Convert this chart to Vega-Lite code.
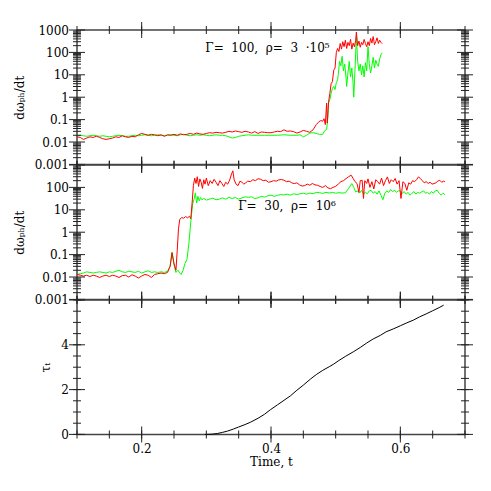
{
  "$schema": "https://vega.github.io/schema/vega-lite/v6.json",
  "padding": {"left": 12, "top": 21, "right": 5, "bottom": 5},
  "spacing": 0,
  "bounds": "flush",
  "config": {
    "view": {"stroke": "#444", "strokeWidth": 1.5},
    "font": "DejaVu Serif",
    "axis": {
      "labelFont": "DejaVu Serif", "labelFontSize": 12, "labelColor": "#000",
      "titleFont": "DejaVu Serif", "titleFontSize": 12, "titleFontWeight": "normal", "titleColor": "#000",
      "domain": false, "ticks": false, "grid": false, "labelFlush": false, "labelOverlap": false
    },
    "tick": {"color": "#222", "thickness": 1, "opacity": 1, "clip": true}
  },
  "datasets": {
    "xmajor": [{"p":0.2},{"p":0.4},{"p":0.6}],
    "xminor": [{"p":0.1},{"p":0.15},{"p":0.2},{"p":0.25},{"p":0.3},{"p":0.35},{"p":0.4},{"p":0.45},{"p":0.5},{"p":0.55},{"p":0.6},{"p":0.65},{"p":0.7}],
    "logmajor": [{"p":0.001},{"p":0.01},{"p":0.1},{"p":1},{"p":10},{"p":100},{"p":1000}],
    "logminor": [{"p":0.002},{"p":0.003},{"p":0.004},{"p":0.005},{"p":0.006},{"p":0.007},{"p":0.008},{"p":0.009},{"p":0.02},{"p":0.03},{"p":0.04},{"p":0.05},{"p":0.06},{"p":0.07},{"p":0.08},{"p":0.09},{"p":0.2},{"p":0.3},{"p":0.4},{"p":0.5},{"p":0.6},{"p":0.7},{"p":0.8},{"p":0.9},{"p":2},{"p":3},{"p":4},{"p":5},{"p":6},{"p":7},{"p":8},{"p":9},{"p":20},{"p":30},{"p":40},{"p":50},{"p":60},{"p":70},{"p":80},{"p":90},{"p":200},{"p":300},{"p":400},{"p":500},{"p":600},{"p":700},{"p":800},{"p":900}],
    "linmajor": [{"p":0},{"p":2},{"p":4},{"p":6}],
    "linminor": [{"p":0},{"p":0.5},{"p":1},{"p":1.5},{"p":2},{"p":2.5},{"p":3},{"p":3.5},{"p":4},{"p":4.5},{"p":5},{"p":5.5},{"p":6}],
    "top": [
      {"t":0.100,"v":0.019,"s":"lower"},{"t":0.105,"v":0.020,"s":"lower"},{"t":0.110,"v":0.019,"s":"lower"},{"t":0.115,"v":0.018,"s":"lower"},{"t":0.120,"v":0.019,"s":"lower"},{"t":0.125,"v":0.020,"s":"lower"},{"t":0.130,"v":0.019,"s":"lower"},{"t":0.135,"v":0.018,"s":"lower"},{"t":0.140,"v":0.019,"s":"lower"},{"t":0.145,"v":0.018,"s":"lower"},{"t":0.150,"v":0.017,"s":"lower"},{"t":0.155,"v":0.018,"s":"lower"},{"t":0.160,"v":0.019,"s":"lower"},{"t":0.165,"v":0.020,"s":"lower"},{"t":0.170,"v":0.019,"s":"lower"},{"t":0.175,"v":0.018,"s":"lower"},{"t":0.180,"v":0.018,"s":"lower"},{"t":0.185,"v":0.019,"s":"lower"},{"t":0.190,"v":0.020,"s":"lower"},{"t":0.195,"v":0.019,"s":"lower"},{"t":0.200,"v":0.020,"s":"lower"},{"t":0.205,"v":0.021,"s":"lower"},{"t":0.210,"v":0.020,"s":"lower"},{"t":0.215,"v":0.019,"s":"lower"},{"t":0.220,"v":0.020,"s":"lower"},{"t":0.225,"v":0.021,"s":"lower"},{"t":0.230,"v":0.020,"s":"lower"},{"t":0.235,"v":0.019,"s":"lower"},{"t":0.240,"v":0.020,"s":"lower"},{"t":0.245,"v":0.021,"s":"lower"},{"t":0.250,"v":0.020,"s":"lower"},{"t":0.255,"v":0.019,"s":"lower"},{"t":0.260,"v":0.021,"s":"lower"},{"t":0.265,"v":0.022,"s":"lower"},{"t":0.270,"v":0.020,"s":"lower"},{"t":0.275,"v":0.019,"s":"lower"},{"t":0.280,"v":0.020,"s":"lower"},{"t":0.285,"v":0.021,"s":"lower"},{"t":0.290,"v":0.020,"s":"lower"},{"t":0.295,"v":0.021,"s":"lower"},{"t":0.300,"v":0.020,"s":"lower"},{"t":0.305,"v":0.019,"s":"lower"},{"t":0.310,"v":0.020,"s":"lower"},{"t":0.315,"v":0.021,"s":"lower"},{"t":0.320,"v":0.020,"s":"lower"},{"t":0.325,"v":0.020,"s":"lower"},{"t":0.330,"v":0.019,"s":"lower"},{"t":0.335,"v":0.017,"s":"lower"},{"t":0.340,"v":0.015,"s":"lower"},{"t":0.345,"v":0.016,"s":"lower"},{"t":0.350,"v":0.018,"s":"lower"},{"t":0.355,"v":0.019,"s":"lower"},{"t":0.360,"v":0.020,"s":"lower"},{"t":0.365,"v":0.021,"s":"lower"},{"t":0.370,"v":0.020,"s":"lower"},{"t":0.380,"v":0.020,"s":"lower"},{"t":0.390,"v":0.020,"s":"lower"},{"t":0.400,"v":0.020,"s":"lower"},{"t":0.410,"v":0.020,"s":"lower"},{"t":0.420,"v":0.021,"s":"lower"},{"t":0.430,"v":0.020,"s":"lower"},{"t":0.440,"v":0.020,"s":"lower"},{"t":0.445,"v":0.021,"s":"lower"},{"t":0.450,"v":0.017,"s":"lower"},{"t":0.455,"v":0.020,"s":"lower"},{"t":0.460,"v":0.025,"s":"lower"},{"t":0.465,"v":0.026,"s":"lower"},{"t":0.470,"v":0.024,"s":"lower"},{"t":0.475,"v":0.022,"s":"lower"},{"t":0.480,"v":0.022,"s":"lower"},{"t":0.483,"v":0.032,"s":"lower"},{"t":0.486,"v":0.036,"s":"lower"},{"t":0.488,"v":0.13,"s":"lower"},{"t":0.489,"v":0.55,"s":"lower"},{"t":0.491,"v":0.8,"s":"lower"},{"t":0.493,"v":1.5,"s":"lower"},{"t":0.495,"v":2.5,"s":"lower"},{"t":0.497,"v":3,"s":"lower"},{"t":0.499,"v":2.2,"s":"lower"},{"t":0.501,"v":4.5,"s":"lower"},{"t":0.503,"v":6,"s":"lower"},{"t":0.504,"v":10,"s":"lower"},{"t":0.506,"v":40,"s":"lower"},{"t":0.508,"v":25,"s":"lower"},{"t":0.510,"v":67,"s":"lower"},{"t":0.512,"v":15,"s":"lower"},{"t":0.514,"v":30,"s":"lower"},{"t":0.516,"v":8,"s":"lower"},{"t":0.517,"v":3,"s":"lower"},{"t":0.519,"v":12,"s":"lower"},{"t":0.521,"v":40,"s":"lower"},{"t":0.523,"v":8,"s":"lower"},{"t":0.525,"v":20,"s":"lower"},{"t":0.527,"v":4,"s":"lower"},{"t":0.528,"v":1,"s":"lower"},{"t":0.530,"v":20,"s":"lower"},{"t":0.532,"v":500,"s":"lower"},{"t":0.534,"v":40,"s":"lower"},{"t":0.536,"v":15,"s":"lower"},{"t":0.538,"v":30,"s":"lower"},{"t":0.540,"v":10,"s":"lower"},{"t":0.542,"v":25,"s":"lower"},{"t":0.544,"v":8,"s":"lower"},{"t":0.546,"v":35,"s":"lower"},{"t":0.548,"v":15,"s":"lower"},{"t":0.550,"v":180,"s":"lower"},{"t":0.552,"v":30,"s":"lower"},{"t":0.554,"v":12,"s":"lower"},{"t":0.556,"v":25,"s":"lower"},{"t":0.558,"v":60,"s":"lower"},{"t":0.560,"v":20,"s":"lower"},{"t":0.562,"v":45,"s":"lower"},{"t":0.564,"v":30,"s":"lower"},{"t":0.566,"v":24,"s":"lower"},{"t":0.568,"v":50,"s":"lower"},{"t":0.570,"v":80,"s":"lower"},{"t":0.572,"v":95,"s":"lower"},
      {"t":0.100,"v":0.017,"s":"upper"},{"t":0.105,"v":0.016,"s":"upper"},{"t":0.110,"v":0.013,"s":"upper"},{"t":0.115,"v":0.015,"s":"upper"},{"t":0.120,"v":0.017,"s":"upper"},{"t":0.125,"v":0.016,"s":"upper"},{"t":0.130,"v":0.018,"s":"upper"},{"t":0.135,"v":0.016,"s":"upper"},{"t":0.140,"v":0.014,"s":"upper"},{"t":0.145,"v":0.013,"s":"upper"},{"t":0.150,"v":0.014,"s":"upper"},{"t":0.155,"v":0.015,"s":"upper"},{"t":0.160,"v":0.017,"s":"upper"},{"t":0.165,"v":0.016,"s":"upper"},{"t":0.170,"v":0.019,"s":"upper"},{"t":0.175,"v":0.017,"s":"upper"},{"t":0.180,"v":0.016,"s":"upper"},{"t":0.185,"v":0.018,"s":"upper"},{"t":0.190,"v":0.017,"s":"upper"},{"t":0.195,"v":0.021,"s":"upper"},{"t":0.200,"v":0.024,"s":"upper"},{"t":0.205,"v":0.022,"s":"upper"},{"t":0.210,"v":0.020,"s":"upper"},{"t":0.215,"v":0.022,"s":"upper"},{"t":0.220,"v":0.021,"s":"upper"},{"t":0.225,"v":0.019,"s":"upper"},{"t":0.230,"v":0.021,"s":"upper"},{"t":0.235,"v":0.018,"s":"upper"},{"t":0.240,"v":0.021,"s":"upper"},{"t":0.245,"v":0.020,"s":"upper"},{"t":0.250,"v":0.022,"s":"upper"},{"t":0.255,"v":0.020,"s":"upper"},{"t":0.260,"v":0.023,"s":"upper"},{"t":0.265,"v":0.021,"s":"upper"},{"t":0.270,"v":0.022,"s":"upper"},{"t":0.275,"v":0.024,"s":"upper"},{"t":0.280,"v":0.022,"s":"upper"},{"t":0.285,"v":0.025,"s":"upper"},{"t":0.290,"v":0.023,"s":"upper"},{"t":0.295,"v":0.022,"s":"upper"},{"t":0.300,"v":0.024,"s":"upper"},{"t":0.305,"v":0.026,"s":"upper"},{"t":0.310,"v":0.025,"s":"upper"},{"t":0.315,"v":0.027,"s":"upper"},{"t":0.320,"v":0.026,"s":"upper"},{"t":0.325,"v":0.025,"s":"upper"},{"t":0.330,"v":0.027,"s":"upper"},{"t":0.335,"v":0.030,"s":"upper"},{"t":0.340,"v":0.028,"s":"upper"},{"t":0.345,"v":0.031,"s":"upper"},{"t":0.350,"v":0.029,"s":"upper"},{"t":0.355,"v":0.027,"s":"upper"},{"t":0.360,"v":0.030,"s":"upper"},{"t":0.365,"v":0.028,"s":"upper"},{"t":0.370,"v":0.025,"s":"upper"},{"t":0.375,"v":0.029,"s":"upper"},{"t":0.380,"v":0.024,"s":"upper"},{"t":0.385,"v":0.028,"s":"upper"},{"t":0.390,"v":0.027,"s":"upper"},{"t":0.395,"v":0.026,"s":"upper"},{"t":0.400,"v":0.026,"s":"upper"},{"t":0.405,"v":0.028,"s":"upper"},{"t":0.410,"v":0.030,"s":"upper"},{"t":0.415,"v":0.029,"s":"upper"},{"t":0.420,"v":0.035,"s":"upper"},{"t":0.425,"v":0.030,"s":"upper"},{"t":0.430,"v":0.031,"s":"upper"},{"t":0.435,"v":0.029,"s":"upper"},{"t":0.440,"v":0.025,"s":"upper"},{"t":0.445,"v":0.028,"s":"upper"},{"t":0.450,"v":0.033,"s":"upper"},{"t":0.455,"v":0.030,"s":"upper"},{"t":0.460,"v":0.027,"s":"upper"},{"t":0.465,"v":0.035,"s":"upper"},{"t":0.470,"v":0.06,"s":"upper"},{"t":0.474,"v":0.08,"s":"upper"},{"t":0.477,"v":0.09,"s":"upper"},{"t":0.480,"v":0.085,"s":"upper"},{"t":0.482,"v":0.11,"s":"upper"},{"t":0.484,"v":0.06,"s":"upper"},{"t":0.486,"v":0.55,"s":"upper"},{"t":0.487,"v":0.07,"s":"upper"},{"t":0.489,"v":0.6,"s":"upper"},{"t":0.491,"v":1.5,"s":"upper"},{"t":0.493,"v":4,"s":"upper"},{"t":0.495,"v":5,"s":"upper"},{"t":0.497,"v":16,"s":"upper"},{"t":0.499,"v":20,"s":"upper"},{"t":0.501,"v":100,"s":"upper"},{"t":0.503,"v":150,"s":"upper"},{"t":0.505,"v":110,"s":"upper"},{"t":0.507,"v":250,"s":"upper"},{"t":0.509,"v":140,"s":"upper"},{"t":0.511,"v":300,"s":"upper"},{"t":0.513,"v":180,"s":"upper"},{"t":0.515,"v":350,"s":"upper"},{"t":0.517,"v":150,"s":"upper"},{"t":0.519,"v":280,"s":"upper"},{"t":0.521,"v":200,"s":"upper"},{"t":0.523,"v":380,"s":"upper"},{"t":0.525,"v":140,"s":"upper"},{"t":0.527,"v":260,"s":"upper"},{"t":0.529,"v":180,"s":"upper"},{"t":0.531,"v":350,"s":"upper"},{"t":0.532,"v":800,"s":"upper"},{"t":0.534,"v":200,"s":"upper"},{"t":0.536,"v":320,"s":"upper"},{"t":0.538,"v":170,"s":"upper"},{"t":0.540,"v":280,"s":"upper"},{"t":0.542,"v":220,"s":"upper"},{"t":0.544,"v":380,"s":"upper"},{"t":0.546,"v":250,"s":"upper"},{"t":0.548,"v":180,"s":"upper"},{"t":0.550,"v":300,"s":"upper"},{"t":0.552,"v":200,"s":"upper"},{"t":0.554,"v":420,"s":"upper"},{"t":0.556,"v":260,"s":"upper"},{"t":0.558,"v":510,"s":"upper"},{"t":0.560,"v":220,"s":"upper"},{"t":0.562,"v":300,"s":"upper"},{"t":0.564,"v":450,"s":"upper"},{"t":0.566,"v":250,"s":"upper"},{"t":0.568,"v":350,"s":"upper"},{"t":0.570,"v":280,"s":"upper"},{"t":0.572,"v":245,"s":"upper"}
    ],
    "mid": [
      {"t":0.100,"v":0.013,"s":"lower"},{"t":0.105,"v":0.014,"s":"lower"},{"t":0.110,"v":0.015,"s":"lower"},{"t":0.115,"v":0.017,"s":"lower"},{"t":0.120,"v":0.016,"s":"lower"},{"t":0.125,"v":0.015,"s":"lower"},{"t":0.130,"v":0.016,"s":"lower"},{"t":0.135,"v":0.017,"s":"lower"},{"t":0.140,"v":0.016,"s":"lower"},{"t":0.145,"v":0.015,"s":"lower"},{"t":0.150,"v":0.017,"s":"lower"},{"t":0.155,"v":0.016,"s":"lower"},{"t":0.160,"v":0.018,"s":"lower"},{"t":0.165,"v":0.020,"s":"lower"},{"t":0.170,"v":0.017,"s":"lower"},{"t":0.175,"v":0.016,"s":"lower"},{"t":0.180,"v":0.018,"s":"lower"},{"t":0.185,"v":0.017,"s":"lower"},{"t":0.190,"v":0.016,"s":"lower"},{"t":0.195,"v":0.018,"s":"lower"},{"t":0.200,"v":0.015,"s":"lower"},{"t":0.205,"v":0.017,"s":"lower"},{"t":0.210,"v":0.019,"s":"lower"},{"t":0.215,"v":0.016,"s":"lower"},{"t":0.220,"v":0.017,"s":"lower"},{"t":0.225,"v":0.016,"s":"lower"},{"t":0.230,"v":0.017,"s":"lower"},{"t":0.235,"v":0.016,"s":"lower"},{"t":0.240,"v":0.018,"s":"lower"},{"t":0.244,"v":0.030,"s":"lower"},{"t":0.247,"v":0.13,"s":"lower"},{"t":0.250,"v":0.035,"s":"lower"},{"t":0.253,"v":0.016,"s":"lower"},{"t":0.256,"v":0.020,"s":"lower"},{"t":0.259,"v":0.015,"s":"lower"},{"t":0.261,"v":0.013,"s":"lower"},{"t":0.264,"v":0.020,"s":"lower"},{"t":0.267,"v":0.04,"s":"lower"},{"t":0.270,"v":0.06,"s":"lower"},{"t":0.273,"v":0.3,"s":"lower"},{"t":0.275,"v":1.4,"s":"lower"},{"t":0.277,"v":6,"s":"lower"},{"t":0.279,"v":19,"s":"lower"},{"t":0.281,"v":30,"s":"lower"},{"t":0.283,"v":57,"s":"lower"},{"t":0.285,"v":20,"s":"lower"},{"t":0.287,"v":40,"s":"lower"},{"t":0.289,"v":25,"s":"lower"},{"t":0.291,"v":35,"s":"lower"},{"t":0.293,"v":28,"s":"lower"},{"t":0.296,"v":32,"s":"lower"},{"t":0.300,"v":27,"s":"lower"},{"t":0.305,"v":30,"s":"lower"},{"t":0.310,"v":33,"s":"lower"},{"t":0.315,"v":28,"s":"lower"},{"t":0.320,"v":30,"s":"lower"},{"t":0.325,"v":34,"s":"lower"},{"t":0.330,"v":30,"s":"lower"},{"t":0.335,"v":36,"s":"lower"},{"t":0.340,"v":32,"s":"lower"},{"t":0.345,"v":35,"s":"lower"},{"t":0.350,"v":30,"s":"lower"},{"t":0.355,"v":34,"s":"lower"},{"t":0.360,"v":38,"s":"lower"},{"t":0.365,"v":36,"s":"lower"},{"t":0.370,"v":38,"s":"lower"},{"t":0.375,"v":32,"s":"lower"},{"t":0.380,"v":34,"s":"lower"},{"t":0.385,"v":40,"s":"lower"},{"t":0.390,"v":37,"s":"lower"},{"t":0.395,"v":42,"s":"lower"},{"t":0.400,"v":45,"s":"lower"},{"t":0.405,"v":40,"s":"lower"},{"t":0.410,"v":44,"s":"lower"},{"t":0.415,"v":48,"s":"lower"},{"t":0.420,"v":46,"s":"lower"},{"t":0.425,"v":50,"s":"lower"},{"t":0.430,"v":45,"s":"lower"},{"t":0.435,"v":52,"s":"lower"},{"t":0.440,"v":48,"s":"lower"},{"t":0.445,"v":52,"s":"lower"},{"t":0.450,"v":55,"s":"lower"},{"t":0.455,"v":50,"s":"lower"},{"t":0.460,"v":56,"s":"lower"},{"t":0.465,"v":52,"s":"lower"},{"t":0.470,"v":60,"s":"lower"},{"t":0.475,"v":58,"s":"lower"},{"t":0.480,"v":54,"s":"lower"},{"t":0.485,"v":60,"s":"lower"},{"t":0.490,"v":56,"s":"lower"},{"t":0.495,"v":60,"s":"lower"},{"t":0.500,"v":55,"s":"lower"},{"t":0.505,"v":58,"s":"lower"},{"t":0.510,"v":56,"s":"lower"},{"t":0.515,"v":57,"s":"lower"},{"t":0.520,"v":90,"s":"lower"},{"t":0.525,"v":148,"s":"lower"},{"t":0.528,"v":100,"s":"lower"},{"t":0.531,"v":63,"s":"lower"},{"t":0.534,"v":70,"s":"lower"},{"t":0.537,"v":55,"s":"lower"},{"t":0.540,"v":75,"s":"lower"},{"t":0.543,"v":50,"s":"lower"},{"t":0.546,"v":60,"s":"lower"},{"t":0.549,"v":52,"s":"lower"},{"t":0.552,"v":70,"s":"lower"},{"t":0.555,"v":74,"s":"lower"},{"t":0.558,"v":55,"s":"lower"},{"t":0.561,"v":65,"s":"lower"},{"t":0.564,"v":50,"s":"lower"},{"t":0.567,"v":70,"s":"lower"},{"t":0.570,"v":45,"s":"lower"},{"t":0.573,"v":28,"s":"lower"},{"t":0.576,"v":55,"s":"lower"},{"t":0.579,"v":70,"s":"lower"},{"t":0.582,"v":60,"s":"lower"},{"t":0.585,"v":80,"s":"lower"},{"t":0.588,"v":65,"s":"lower"},{"t":0.591,"v":75,"s":"lower"},{"t":0.594,"v":60,"s":"lower"},{"t":0.597,"v":70,"s":"lower"},{"t":0.600,"v":70,"s":"lower"},{"t":0.603,"v":55,"s":"lower"},{"t":0.606,"v":65,"s":"lower"},{"t":0.609,"v":50,"s":"lower"},{"t":0.612,"v":60,"s":"lower"},{"t":0.615,"v":45,"s":"lower"},{"t":0.618,"v":55,"s":"lower"},{"t":0.621,"v":65,"s":"lower"},{"t":0.624,"v":50,"s":"lower"},{"t":0.627,"v":60,"s":"lower"},{"t":0.630,"v":55,"s":"lower"},{"t":0.633,"v":63,"s":"lower"},{"t":0.636,"v":70,"s":"lower"},{"t":0.639,"v":55,"s":"lower"},{"t":0.642,"v":60,"s":"lower"},{"t":0.645,"v":50,"s":"lower"},{"t":0.648,"v":65,"s":"lower"},{"t":0.651,"v":55,"s":"lower"},{"t":0.654,"v":70,"s":"lower"},{"t":0.657,"v":74,"s":"lower"},{"t":0.660,"v":55,"s":"lower"},{"t":0.663,"v":45,"s":"lower"},{"t":0.666,"v":55,"s":"lower"},{"t":0.669,"v":47,"s":"lower"},
      {"t":0.100,"v":0.013,"s":"upper"},{"t":0.105,"v":0.012,"s":"upper"},{"t":0.110,"v":0.011,"s":"upper"},{"t":0.115,"v":0.012,"s":"upper"},{"t":0.120,"v":0.0105,"s":"upper"},{"t":0.125,"v":0.012,"s":"upper"},{"t":0.130,"v":0.011,"s":"upper"},{"t":0.135,"v":0.0095,"s":"upper"},{"t":0.140,"v":0.011,"s":"upper"},{"t":0.145,"v":0.012,"s":"upper"},{"t":0.150,"v":0.0105,"s":"upper"},{"t":0.155,"v":0.012,"s":"upper"},{"t":0.160,"v":0.011,"s":"upper"},{"t":0.165,"v":0.0095,"s":"upper"},{"t":0.170,"v":0.0115,"s":"upper"},{"t":0.175,"v":0.012,"s":"upper"},{"t":0.180,"v":0.010,"s":"upper"},{"t":0.185,"v":0.0125,"s":"upper"},{"t":0.190,"v":0.011,"s":"upper"},{"t":0.195,"v":0.009,"s":"upper"},{"t":0.200,"v":0.011,"s":"upper"},{"t":0.205,"v":0.013,"s":"upper"},{"t":0.210,"v":0.012,"s":"upper"},{"t":0.215,"v":0.0095,"s":"upper"},{"t":0.220,"v":0.013,"s":"upper"},{"t":0.225,"v":0.014,"s":"upper"},{"t":0.230,"v":0.015,"s":"upper"},{"t":0.235,"v":0.014,"s":"upper"},{"t":0.240,"v":0.016,"s":"upper"},{"t":0.244,"v":0.03,"s":"upper"},{"t":0.247,"v":0.12,"s":"upper"},{"t":0.250,"v":0.04,"s":"upper"},{"t":0.253,"v":0.02,"s":"upper"},{"t":0.255,"v":0.15,"s":"upper"},{"t":0.257,"v":1.5,"s":"upper"},{"t":0.259,"v":3.8,"s":"upper"},{"t":0.262,"v":4.5,"s":"upper"},{"t":0.265,"v":4.2,"s":"upper"},{"t":0.268,"v":5,"s":"upper"},{"t":0.271,"v":4.4,"s":"upper"},{"t":0.274,"v":5.2,"s":"upper"},{"t":0.276,"v":4,"s":"upper"},{"t":0.278,"v":20,"s":"upper"},{"t":0.280,"v":120,"s":"upper"},{"t":0.282,"v":260,"s":"upper"},{"t":0.284,"v":150,"s":"upper"},{"t":0.286,"v":300,"s":"upper"},{"t":0.288,"v":110,"s":"upper"},{"t":0.290,"v":240,"s":"upper"},{"t":0.292,"v":170,"s":"upper"},{"t":0.294,"v":90,"s":"upper"},{"t":0.296,"v":220,"s":"upper"},{"t":0.298,"v":140,"s":"upper"},{"t":0.300,"v":260,"s":"upper"},{"t":0.303,"v":120,"s":"upper"},{"t":0.306,"v":200,"s":"upper"},{"t":0.309,"v":150,"s":"upper"},{"t":0.312,"v":230,"s":"upper"},{"t":0.315,"v":170,"s":"upper"},{"t":0.318,"v":120,"s":"upper"},{"t":0.321,"v":200,"s":"upper"},{"t":0.324,"v":150,"s":"upper"},{"t":0.327,"v":110,"s":"upper"},{"t":0.330,"v":170,"s":"upper"},{"t":0.333,"v":140,"s":"upper"},{"t":0.336,"v":210,"s":"upper"},{"t":0.339,"v":400,"s":"upper"},{"t":0.341,"v":550,"s":"upper"},{"t":0.343,"v":220,"s":"upper"},{"t":0.346,"v":140,"s":"upper"},{"t":0.349,"v":120,"s":"upper"},{"t":0.352,"v":190,"s":"upper"},{"t":0.355,"v":170,"s":"upper"},{"t":0.358,"v":140,"s":"upper"},{"t":0.361,"v":160,"s":"upper"},{"t":0.364,"v":190,"s":"upper"},{"t":0.368,"v":180,"s":"upper"},{"t":0.372,"v":220,"s":"upper"},{"t":0.376,"v":200,"s":"upper"},{"t":0.380,"v":245,"s":"upper"},{"t":0.384,"v":230,"s":"upper"},{"t":0.388,"v":200,"s":"upper"},{"t":0.392,"v":210,"s":"upper"},{"t":0.396,"v":170,"s":"upper"},{"t":0.400,"v":180,"s":"upper"},{"t":0.404,"v":200,"s":"upper"},{"t":0.408,"v":190,"s":"upper"},{"t":0.412,"v":215,"s":"upper"},{"t":0.416,"v":225,"s":"upper"},{"t":0.420,"v":210,"s":"upper"},{"t":0.424,"v":180,"s":"upper"},{"t":0.428,"v":190,"s":"upper"},{"t":0.432,"v":160,"s":"upper"},{"t":0.436,"v":148,"s":"upper"},{"t":0.440,"v":160,"s":"upper"},{"t":0.444,"v":130,"s":"upper"},{"t":0.448,"v":115,"s":"upper"},{"t":0.452,"v":120,"s":"upper"},{"t":0.456,"v":140,"s":"upper"},{"t":0.460,"v":125,"s":"upper"},{"t":0.464,"v":150,"s":"upper"},{"t":0.468,"v":130,"s":"upper"},{"t":0.472,"v":124,"s":"upper"},{"t":0.476,"v":110,"s":"upper"},{"t":0.480,"v":100,"s":"upper"},{"t":0.484,"v":120,"s":"upper"},{"t":0.488,"v":95,"s":"upper"},{"t":0.492,"v":88,"s":"upper"},{"t":0.496,"v":100,"s":"upper"},{"t":0.500,"v":112,"s":"upper"},{"t":0.504,"v":140,"s":"upper"},{"t":0.508,"v":180,"s":"upper"},{"t":0.512,"v":200,"s":"upper"},{"t":0.516,"v":245,"s":"upper"},{"t":0.520,"v":300,"s":"upper"},{"t":0.524,"v":350,"s":"upper"},{"t":0.527,"v":250,"s":"upper"},{"t":0.530,"v":180,"s":"upper"},{"t":0.533,"v":148,"s":"upper"},{"t":0.536,"v":60,"s":"upper"},{"t":0.538,"v":200,"s":"upper"},{"t":0.541,"v":208,"s":"upper"},{"t":0.543,"v":32,"s":"upper"},{"t":0.545,"v":200,"s":"upper"},{"t":0.548,"v":150,"s":"upper"},{"t":0.550,"v":240,"s":"upper"},{"t":0.553,"v":100,"s":"upper"},{"t":0.556,"v":180,"s":"upper"},{"t":0.559,"v":85,"s":"upper"},{"t":0.562,"v":220,"s":"upper"},{"t":0.565,"v":180,"s":"upper"},{"t":0.568,"v":140,"s":"upper"},{"t":0.571,"v":260,"s":"upper"},{"t":0.574,"v":120,"s":"upper"},{"t":0.577,"v":200,"s":"upper"},{"t":0.580,"v":295,"s":"upper"},{"t":0.583,"v":150,"s":"upper"},{"t":0.586,"v":220,"s":"upper"},{"t":0.589,"v":180,"s":"upper"},{"t":0.592,"v":250,"s":"upper"},{"t":0.595,"v":140,"s":"upper"},{"t":0.598,"v":200,"s":"upper"},{"t":0.601,"v":32,"s":"upper"},{"t":0.604,"v":180,"s":"upper"},{"t":0.607,"v":150,"s":"upper"},{"t":0.610,"v":74,"s":"upper"},{"t":0.613,"v":160,"s":"upper"},{"t":0.616,"v":140,"s":"upper"},{"t":0.619,"v":200,"s":"upper"},{"t":0.622,"v":180,"s":"upper"},{"t":0.625,"v":220,"s":"upper"},{"t":0.628,"v":295,"s":"upper"},{"t":0.631,"v":250,"s":"upper"},{"t":0.634,"v":200,"s":"upper"},{"t":0.637,"v":160,"s":"upper"},{"t":0.640,"v":180,"s":"upper"},{"t":0.643,"v":150,"s":"upper"},{"t":0.646,"v":170,"s":"upper"},{"t":0.649,"v":140,"s":"upper"},{"t":0.652,"v":148,"s":"upper"},{"t":0.655,"v":160,"s":"upper"},{"t":0.658,"v":190,"s":"upper"},{"t":0.661,"v":208,"s":"upper"},{"t":0.664,"v":170,"s":"upper"},{"t":0.667,"v":190,"s":"upper"},{"t":0.669,"v":180,"s":"upper"}
    ],
    "tau": [
      {"t":0.298,"v":0},{"t":0.305,"v":0.005},{"t":0.310,"v":0.015},{"t":0.317,"v":0.04},{"t":0.325,"v":0.09},{"t":0.333,"v":0.15},{"t":0.342,"v":0.24},{"t":0.350,"v":0.33},{"t":0.360,"v":0.44},{"t":0.368,"v":0.54},{"t":0.380,"v":0.72},{"t":0.390,"v":0.9},{"t":0.399,"v":1.1},{"t":0.410,"v":1.32},{"t":0.420,"v":1.52},{"t":0.430,"v":1.72},{"t":0.440,"v":1.97},{"t":0.450,"v":2.2},{"t":0.461,"v":2.47},{"t":0.470,"v":2.67},{"t":0.480,"v":2.86},{"t":0.490,"v":3.02},{"t":0.497,"v":3.14},{"t":0.505,"v":3.3},{"t":0.515,"v":3.48},{"t":0.528,"v":3.7},{"t":0.538,"v":3.88},{"t":0.548,"v":4.08},{"t":0.558,"v":4.26},{"t":0.569,"v":4.42},{"t":0.578,"v":4.58},{"t":0.590,"v":4.72},{"t":0.600,"v":4.85},{"t":0.610,"v":4.98},{"t":0.620,"v":5.1},{"t":0.630,"v":5.25},{"t":0.640,"v":5.38},{"t":0.650,"v":5.52},{"t":0.660,"v":5.66},{"t":0.667,"v":5.77}
    ]
  },
  "vconcat": [
    {
      "width": 388, "height": 134.4,
      "resolve": {"axis": {"x": "independent", "y": "independent"}},
      "layer": [
        {
          "data": {"name": "top"},
          "mark": {"type": "line", "strokeWidth": 1},
          "encoding": {
            "x": {"field": "t", "type": "quantitative", "scale": {"domain": [0.1, 0.7], "nice": false}, "axis": null},
            "y": {"field": "v", "type": "quantitative", "scale": {"type": "log", "domain": [0.001, 1000], "nice": false},
                  "axis": {"orient": "left", "values": [0.001, 0.01, 0.1, 1, 10, 100, 1000], "labelPadding": 8.5, "labelExpr": "format(datum.value, '~g')", "title": "dωₚₕ/dt", "titlePadding": 8}},
            "color": {"field": "s", "type": "nominal", "scale": {"domain": ["lower", "upper"], "range": ["#00ff00", "#ff0000"]}, "legend": null}
          }
        },
        {
          "data": {"values": [{"t": 0.2985, "v": 157, "label": "Γ=\u00a0\u00a0100,\u00a0\u00a0ρ=\u00a0\u00a03\u00a0\u00a0·10⁵"}]},
          "mark": {"type": "text", "align": "left", "baseline": "middle", "font": "DejaVu Serif", "fontSize": 12, "color": "#000"},
          "encoding": {"x": {"field": "t", "type": "quantitative", "axis": null}, "y": {"field": "v", "type": "quantitative", "axis": null}, "text": {"field": "label"}}
        },
        {"data": {"name": "xmajor"}, "mark": {"type": "tick", "orient": "vertical", "size": 16},
         "encoding": {"x": {"field": "p", "type": "quantitative", "axis": null}, "y": {"datum": 0.001, "axis": null}}},
        {"data": {"name": "xminor"}, "mark": {"type": "tick", "orient": "vertical", "size": 8},
         "encoding": {"x": {"field": "p", "type": "quantitative", "axis": null}, "y": {"datum": 0.001, "axis": null}}},
        {"data": {"name": "xmajor"}, "mark": {"type": "tick", "orient": "vertical", "size": 16},
         "encoding": {"x": {"field": "p", "type": "quantitative", "axis": null}, "y": {"datum": 1000, "axis": null}}},
        {"data": {"name": "xminor"}, "mark": {"type": "tick", "orient": "vertical", "size": 8},
         "encoding": {"x": {"field": "p", "type": "quantitative", "axis": null}, "y": {"datum": 1000, "axis": null}}},
        {"data": {"name": "logmajor"}, "mark": {"type": "tick", "orient": "horizontal", "size": 16},
         "encoding": {"y": {"field": "p", "type": "quantitative", "axis": null}, "x": {"datum": 0.1, "axis": null}}},
        {"data": {"name": "logminor"}, "mark": {"type": "tick", "orient": "horizontal", "size": 8},
         "encoding": {"y": {"field": "p", "type": "quantitative", "axis": null}, "x": {"datum": 0.1, "axis": null}}},
        {"data": {"name": "logmajor"}, "mark": {"type": "tick", "orient": "horizontal", "size": 16},
         "encoding": {"y": {"field": "p", "type": "quantitative", "axis": null}, "x": {"datum": 0.7, "axis": null}}},
        {"data": {"name": "logminor"}, "mark": {"type": "tick", "orient": "horizontal", "size": 8},
         "encoding": {"y": {"field": "p", "type": "quantitative", "axis": null}, "x": {"datum": 0.7, "axis": null}}}
      ]
    },
    {
      "width": 388, "height": 134.4,
      "resolve": {"axis": {"x": "independent", "y": "independent"}},
      "layer": [
        {
          "data": {"name": "mid"},
          "mark": {"type": "line", "strokeWidth": 1},
          "encoding": {
            "x": {"field": "t", "type": "quantitative", "scale": {"domain": [0.1, 0.7], "nice": false}, "axis": null},
            "y": {"field": "v", "type": "quantitative", "scale": {"type": "log", "domain": [0.001, 1000], "nice": false},
                  "axis": {"orient": "left", "values": [0.001, 0.01, 0.1, 1, 10, 100], "labelPadding": 8.5, "labelExpr": "format(datum.value, '~g')", "title": "dωₚₕ/dt", "titlePadding": 8}},
            "color": {"field": "s", "type": "nominal", "scale": {"domain": ["lower", "upper"], "range": ["#00ff00", "#ff0000"]}, "legend": null}
          }
        },
        {
          "data": {"values": [{"t": 0.3494, "v": 14.3, "label": "Γ=\u00a0\u00a030,\u00a0\u00a0ρ=\u00a0\u00a010⁶"}]},
          "mark": {"type": "text", "align": "left", "baseline": "middle", "font": "DejaVu Serif", "fontSize": 12, "color": "#000"},
          "encoding": {"x": {"field": "t", "type": "quantitative", "axis": null}, "y": {"field": "v", "type": "quantitative", "axis": null}, "text": {"field": "label"}}
        },
        {"data": {"name": "xmajor"}, "mark": {"type": "tick", "orient": "vertical", "size": 16},
         "encoding": {"x": {"field": "p", "type": "quantitative", "axis": null}, "y": {"datum": 0.001, "axis": null}}},
        {"data": {"name": "xminor"}, "mark": {"type": "tick", "orient": "vertical", "size": 8},
         "encoding": {"x": {"field": "p", "type": "quantitative", "axis": null}, "y": {"datum": 0.001, "axis": null}}},
        {"data": {"name": "xmajor"}, "mark": {"type": "tick", "orient": "vertical", "size": 16},
         "encoding": {"x": {"field": "p", "type": "quantitative", "axis": null}, "y": {"datum": 1000, "axis": null}}},
        {"data": {"name": "xminor"}, "mark": {"type": "tick", "orient": "vertical", "size": 8},
         "encoding": {"x": {"field": "p", "type": "quantitative", "axis": null}, "y": {"datum": 1000, "axis": null}}},
        {"data": {"name": "logmajor"}, "mark": {"type": "tick", "orient": "horizontal", "size": 16},
         "encoding": {"y": {"field": "p", "type": "quantitative", "axis": null}, "x": {"datum": 0.1, "axis": null}}},
        {"data": {"name": "logminor"}, "mark": {"type": "tick", "orient": "horizontal", "size": 8},
         "encoding": {"y": {"field": "p", "type": "quantitative", "axis": null}, "x": {"datum": 0.1, "axis": null}}},
        {"data": {"name": "logmajor"}, "mark": {"type": "tick", "orient": "horizontal", "size": 16},
         "encoding": {"y": {"field": "p", "type": "quantitative", "axis": null}, "x": {"datum": 0.7, "axis": null}}},
        {"data": {"name": "logminor"}, "mark": {"type": "tick", "orient": "horizontal", "size": 8},
         "encoding": {"y": {"field": "p", "type": "quantitative", "axis": null}, "x": {"datum": 0.7, "axis": null}}}
      ]
    },
    {
      "width": 388, "height": 134.4,
      "resolve": {"axis": {"x": "independent", "y": "independent"}},
      "layer": [
        {
          "data": {"name": "tau"},
          "mark": {"type": "line", "strokeWidth": 1, "color": "#000"},
          "encoding": {
            "x": {"field": "t", "type": "quantitative", "scale": {"domain": [0.1, 0.7], "nice": false},
                  "axis": {"orient": "bottom", "values": [0.2, 0.4, 0.6], "labelPadding": 9, "format": ".1f", "title": "Time, t", "titlePadding": 2}},
            "y": {"field": "v", "type": "quantitative", "scale": {"domain": [0, 6], "nice": false},
                  "axis": {"orient": "left", "values": [0, 2, 4], "labelPadding": 8.5, "format": "d", "title": "τₜ", "titlePadding": 8}}
          }
        },
        {"data": {"name": "xmajor"}, "mark": {"type": "tick", "orient": "vertical", "size": 16},
         "encoding": {"x": {"field": "p", "type": "quantitative", "axis": null}, "y": {"datum": 0, "axis": null}}},
        {"data": {"name": "xminor"}, "mark": {"type": "tick", "orient": "vertical", "size": 8},
         "encoding": {"x": {"field": "p", "type": "quantitative", "axis": null}, "y": {"datum": 0, "axis": null}}},
        {"data": {"name": "xmajor"}, "mark": {"type": "tick", "orient": "vertical", "size": 16},
         "encoding": {"x": {"field": "p", "type": "quantitative", "axis": null}, "y": {"datum": 6, "axis": null}}},
        {"data": {"name": "xminor"}, "mark": {"type": "tick", "orient": "vertical", "size": 8},
         "encoding": {"x": {"field": "p", "type": "quantitative", "axis": null}, "y": {"datum": 6, "axis": null}}},
        {"data": {"name": "linmajor"}, "mark": {"type": "tick", "orient": "horizontal", "size": 16},
         "encoding": {"y": {"field": "p", "type": "quantitative", "axis": null}, "x": {"datum": 0.1, "axis": null}}},
        {"data": {"name": "linminor"}, "mark": {"type": "tick", "orient": "horizontal", "size": 8},
         "encoding": {"y": {"field": "p", "type": "quantitative", "axis": null}, "x": {"datum": 0.1, "axis": null}}},
        {"data": {"name": "linmajor"}, "mark": {"type": "tick", "orient": "horizontal", "size": 16},
         "encoding": {"y": {"field": "p", "type": "quantitative", "axis": null}, "x": {"datum": 0.7, "axis": null}}},
        {"data": {"name": "linminor"}, "mark": {"type": "tick", "orient": "horizontal", "size": 8},
         "encoding": {"y": {"field": "p", "type": "quantitative", "axis": null}, "x": {"datum": 0.7, "axis": null}}}
      ]
    }
  ]
}
